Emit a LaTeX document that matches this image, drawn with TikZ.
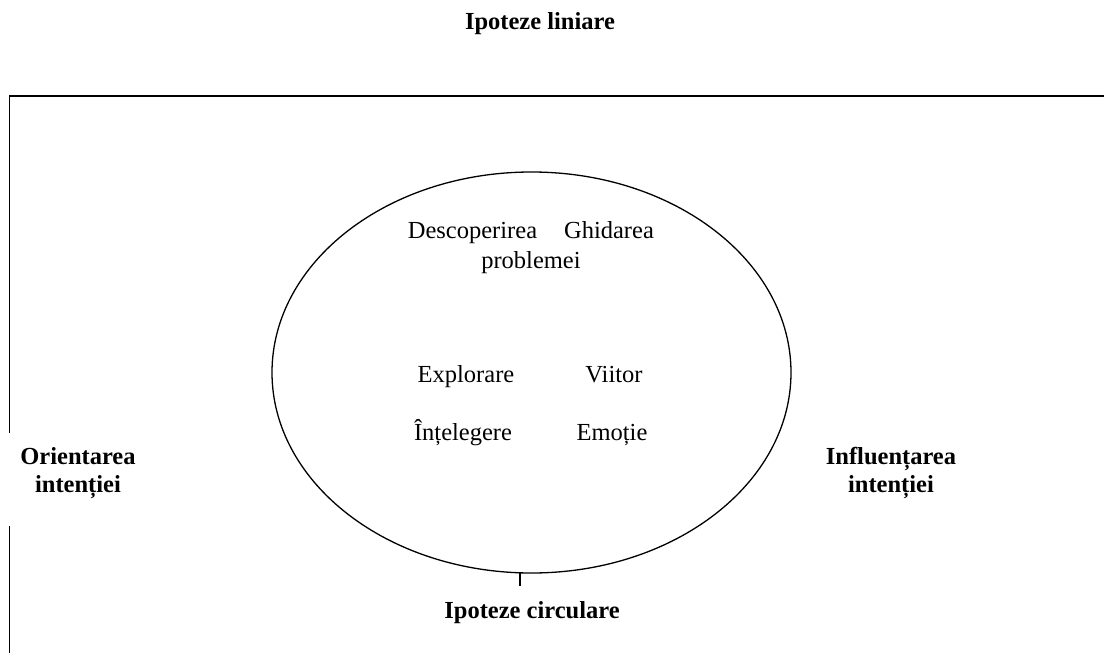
\documentclass[tikz,border=0pt]{standalone}
\usepackage{fontspec}
\setmainfont{Liberation Serif}
\usetikzlibrary{shapes.geometric}
\begin{document}
\begin{tikzpicture}[x=1pt,y=-1pt,
  lbl/.style={font=\fontsize{24.5}{28}\selectfont, inner sep=0pt, anchor=base},
  blbl/.style={font=\fontsize{24.5}{28}\selectfont\bfseries, inner sep=0pt, anchor=base, align=center},
  frame/.style={line width=1.8pt},
  ring/.style={draw, ellipse, line width=1.3pt, inner sep=0pt, minimum width=519pt, minimum height=401pt}]
\useasboundingbox (0,0) rectangle (1104,653);
% frame
\coordinate (tl) at (9.5,96);
\coordinate (tr) at (1104,96);
\coordinate (lgap1) at (9.5,433);
\coordinate (lgap2) at (9.5,526);
\coordinate (bl) at (9.5,653);
\draw[frame] (tr) -- (tl) -- (lgap1);
\draw[frame] (lgap2) -- (bl);
% ellipse
\node[ring] (ell) at (531.5,372.5) {};
\coordinate (tick1) at (520,572.5);
\coordinate (tick2) at (520,586);
\draw[line width=1.3pt] (tick1) -- (tick2);
% labels
\node[blbl] (top) at (540,30) {Ipoteze liniare};
\node[blbl] (bot) at (532,618) {Ipoteze circulare};
\node[blbl, anchor=north] (orient) at (78,447) {Orientarea\\intenției};
\node[blbl, anchor=north] (infl) at (891,447) {Influențarea\\intenției};
\node[lbl] (desc) at (472.5,238) {Descoperirea};
\node[lbl] (ghid) at (609,238) {Ghidarea};
\node[lbl] (prob) at (531,268) {problemei};
\node[lbl] (expl) at (466,382) {Explorare};
\node[lbl] (viit) at (614,382) {Viitor};
\node[lbl] (inte) at (463,440) {Înțelegere};
\node[lbl] (emot) at (612,440) {Emoție};
\end{tikzpicture}
\end{document}
